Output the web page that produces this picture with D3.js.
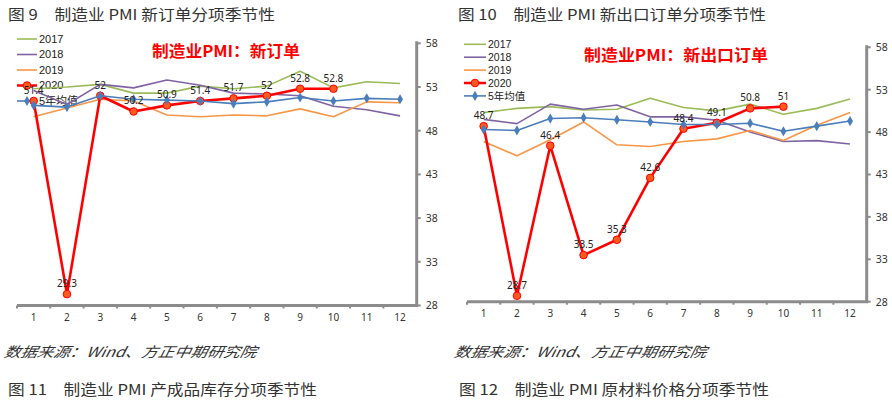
<!DOCTYPE html>
<html><head><meta charset="utf-8">
<script src="https://cdn.jsdelivr.net/npm/d3@7/dist/d3.min.js"></script>
<style>
body{margin:0;background:#fff;}
svg{display:block;font-family:"Noto Sans CJK SC","Noto Sans",sans-serif;}
</style></head><body>
<svg id="c" width="892" height="400"></svg>
<script>
const months = ["1","2","3","4","5","6","7","8","9","10","11","12"];
const yTicks = [28,33,38,43,48,53,58];
const seriesNames = ["2017","2018","2019","2020","5年均值"];

// 新订单
const nd2017 = [52.8,53.0,53.3,52.3,52.3,53.1,52.8,53.1,54.8,52.9,53.6,53.4];
const nd2018 = [52.6,51.0,53.3,52.9,53.8,53.2,52.3,52.2,52.0,50.8,50.4,49.7];
const nd2019 = [49.6,50.6,51.6,51.4,49.8,49.6,49.8,49.7,50.5,49.6,51.3,51.2];
const nd2020 = [51.4,29.3,52.0,50.2,50.9,51.4,51.7,52.0,52.8,52.8];
const ndAvg  = [50.9,50.7,52.0,51.6,51.5,51.4,51.1,51.3,51.8,51.4,51.7,51.6];

// 新出口订单
const ex2017 = [50.3,50.8,51.0,50.6,50.7,52.0,50.9,50.5,51.3,50.1,50.8,51.9];
const ex2018 = [49.5,49.0,51.3,50.7,51.2,49.8,49.8,49.4,48.0,46.9,47.0,46.6];
const ex2019 = [46.9,45.2,47.1,49.2,46.5,46.3,46.9,47.2,48.2,47.0,48.8,50.3];
const ex2020 = [48.7,28.7,46.4,33.5,35.3,42.6,48.4,49.1,50.8,51.0];
const exAvg  = [48.3,48.2,49.6,49.7,49.45,49.2,48.9,48.9,49.05,48.1,48.7,49.3];

const colors = ["#9bbb59","#8064a2","#f79646","#ff0000","#4a7ebb"];
const svg = d3.select("#c");

function chart(cfg){
  const g = svg.append("g");
  const x = d3.scaleBand().domain(months).range([cfg.x0, cfg.x1]);
  const y = d3.scaleLinear().domain([28,58]).range([cfg.yb, cfg.yt]);
  const cx = i => x(months[i]) + x.bandwidth()/2;

  // title in red
  g.append("text").attr("x",cfg.tx).attr("y",cfg.ty).attr("fill","#ff0000")
    .attr("font-size",16).attr("font-weight","bold")
    .attr("textLength",cfg.tw).attr("lengthAdjust","spacingAndGlyphs")
    .text(cfg.title);

  // legend
  seriesNames.forEach((n,i)=>{
    const ly = cfg.ly + i*cfg.lstep;
    g.append("line").attr("x1",cfg.lx).attr("x2",cfg.lx+cfg.lw).attr("y1",ly).attr("y2",ly)
      .attr("stroke",colors[i]).attr("stroke-width", i===3?2.5:1.6);
    if(i===3) g.append("circle").attr("cx",cfg.lx+cfg.lw/2).attr("cy",ly).attr("r",3.8)
      .attr("fill","#ff5a1e").attr("stroke","#ff0000").attr("stroke-width",1);
    if(i===4) g.append("path").attr("d",d3.symbol(d3.symbolDiamond,30)())
      .attr("transform",`translate(${cfg.lx+cfg.lw/2},${ly})`).attr("fill",colors[4]);
    g.append("text").attr("x",cfg.lx+cfg.lw+2).attr("y",ly).attr("dy","0.35em")
      .attr("font-size",cfg.lfs).attr("fill","#222")
      .attr("font-family","Liberation Sans, Noto Sans CJK SC, sans-serif").text(n);
  });

  // axes
  const xa = g.append("g").attr("transform",`translate(0,${cfg.yb})`)
    .call(d3.axisBottom(x).tickSize(0).tickPadding(8));
  xa.select(".domain").remove();
  xa.selectAll("text").attr("font-size",10).attr("fill","#333")
    .attr("font-family","Noto Sans, sans-serif");
  const ya = g.append("g").attr("transform",`translate(${cfg.x1},0)`)
    .call(d3.axisRight(y).tickValues(yTicks).tickSize(0).tickPadding(9));
  ya.select(".domain").remove();
  ya.selectAll("text").attr("font-size",10.5).attr("fill","#333")
    .attr("font-family","Noto Sans, sans-serif");
  // axis lines
  g.append("line").attr("x1",cfg.x0).attr("x2",cfg.x1+1.5).attr("y1",cfg.yb).attr("y2",cfg.yb)
    .attr("stroke","#8c8c8c").attr("stroke-width",3);
  g.append("line").attr("x1",cfg.x1).attr("x2",cfg.x1).attr("y1",cfg.yt-2).attr("y2",cfg.yb)
    .attr("stroke","#8c8c8c").attr("stroke-width",3);
  // tick marks
  months.forEach((m,i)=>{
    g.append("line").attr("x1",x(m)).attr("x2",x(m)).attr("y1",cfg.yb).attr("y2",cfg.yb+3)
      .attr("stroke","#8c8c8c").attr("stroke-width",2);
  });
  yTicks.forEach(t=>{
    g.append("line").attr("x1",cfg.x1).attr("x2",cfg.x1+4).attr("y1",y(t)).attr("y2",y(t))
      .attr("stroke","#8c8c8c").attr("stroke-width",2);
  });

  const line = d3.line().x((d,i)=>cx(i)).y(d=>y(d));
  const data = cfg.data;
  [0,1,2,3,4].forEach(k=>{
    g.append("path").attr("d",line(data[k])).attr("fill","none")
      .attr("stroke",colors[k]).attr("stroke-width",k===3?2.6:1.6)
      .attr("stroke-linejoin","round");
    if(k===3){
      data[k].forEach((v,i)=>g.append("circle").attr("cx",cx(i)).attr("cy",y(v)).attr("r",3.8)
        .attr("fill","#ff5a1e").attr("stroke","#ff0000").attr("stroke-width",1));
    }
    if(k===4){
      data[k].forEach((v,i)=>g.append("path").attr("d",d3.symbol(d3.symbolDiamond,30)())
        .attr("transform",`translate(${cx(i)},${y(v)})`).attr("fill",colors[4]));
    }
  });
  // data labels for 2020
  data[3].forEach((v,i)=>g.append("text").attr("x",cx(i)).attr("y",y(v)-7)
    .attr("text-anchor","middle").attr("font-size",10).attr("fill","#222")
    .attr("font-family","Noto Sans, sans-serif").text(String(v)));
}

chart({x0:17,x1:416.7,yt:43.3,yb:305.5,title:"制造业PMI：新订单",tx:152,ty:57,tw:148,
  lx:17,lw:20,ly:39,lstep:15.5,lfs:11,data:[nd2017,nd2018,nd2019,nd2020,ndAvg]});
chart({x0:467,x1:866.7,yt:47.3,yb:301.7,title:"制造业PMI：新出口订单",tx:584,ty:61,tw:184,
  lx:464,lw:22,ly:44.3,lstep:12.9,lfs:10.5,data:[ex2017,ex2018,ex2019,ex2020,exAvg]});

// captions
function cap(t,xp,yp,w,opts={}){
  const e = svg.append("text").attr("x",xp).attr("y",yp).attr("dy","0.35em")
    .attr("font-size",opts.fs||15).attr("fill","#333").attr("textLength",w)
    .attr("lengthAdjust","spacingAndGlyphs").text(t);
  if(opts.italic) e.attr("font-style","italic").attr("transform",`translate(${yp*0.2},0) skewX(-12)`).attr("x",xp);
  return e;
}
cap("图 9　制造业 PMI 新订单分项季节性",8,15,267);
cap("图 10　制造业 PMI 新出口订单分项季节性",458,15,308);
cap("数据来源：Wind、方正中期研究院",9,352,252,{fs:14,italic:true});
cap("数据来源：Wind、方正中期研究院",459,352,252,{fs:14,italic:true});
cap("图 11　制造业 PMI 产成品库存分项季节性",8,390,309);
cap("图 12　制造业 PMI 原材料价格分项季节性",459,390,310);
</script></body></html>
